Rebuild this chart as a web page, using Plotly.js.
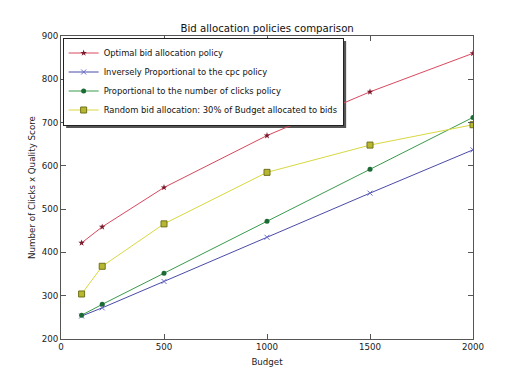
<!DOCTYPE html>
<html><head><meta charset="utf-8">
<script src="https://cdn.plot.ly/plotly-3.0.1.min.js"></script>
<style>html,body{margin:0;padding:0;background:#fff}#c{width:506px;height:386px}</style>
</head><body><div id="c"></div>
<script>
const budget = [100, 200, 500, 1000, 1500, 2000];
const optimal = [422, 459, 550, 670, 771, 860];
const inverseCpc = [253, 272, 333, 435, 537, 637];
const propClicks = [255, 280, 352, 472, 592, 712];
const random30 = [304, 368, 466, 585, 648, 695];
const seriesNames = [
  'Optimal bid allocation policy',
  'Inversely Proportional to the cpc policy',
  'Proportional to the number of clicks policy',
  'Random bid allocation: 30% of Budget allocated to bids'
];
const xTicks = [0, 500, 1000, 1500, 2000];
const yTicks = [200, 300, 400, 500, 600, 700, 800, 900];

const font = {family: 'DejaVu Sans, sans-serif', size: 8.7, color: '#222'};
const traces = [
  {x: budget, y: optimal, name: seriesNames[0], mode: 'lines+markers',
   line: {color: '#d8485e', width: 1},
   marker: {symbol: 'star', size: 5, color: '#7a1a2c', line: {width: 0}}},
  {x: budget, y: inverseCpc, name: seriesNames[1], mode: 'lines+markers',
   line: {color: '#4a4aa8', width: 1},
   marker: {symbol: 'x-thin', size: 5, line: {color: '#6a6ac8', width: 1}}},
  {x: budget, y: propClicks, name: seriesNames[2], mode: 'lines+markers',
   line: {color: '#3a9a4a', width: 1},
   marker: {symbol: 'circle', size: 5, color: '#1c6a34', line: {width: 0}}},
  {x: budget, y: random30, name: seriesNames[3], mode: 'lines+markers',
   line: {color: '#d8d840', width: 1},
   marker: {symbol: 'square', size: 6, color: '#b8b830', line: {color: '#70701a', width: 1}}}
];
const axisCommon = {
  showgrid: false, zeroline: false, showline: true, linecolor: '#555', linewidth: 1,
  mirror: 'ticks', ticks: 'inside', ticklen: 5, tickcolor: '#555',
  tickfont: font
};
const layout = {
  width: 506, height: 386,
  margin: {l: 61, r: 33, t: 36, b: 47},
  paper_bgcolor: '#fff', plot_bgcolor: '#fff',
  font: font,
  title: {text: 'Bid allocation policies comparison', font: {family: 'DejaVu Sans, sans-serif', size: 10.2, color: '#111'},
          x: 0.528, xanchor: 'center', y: 0.927, yanchor: 'middle'},
  xaxis: Object.assign({}, axisCommon, {range: [0, 2000], tickvals: xTicks,
          title: {text: 'Budget', font: font, standoff: 7}}),
  yaxis: Object.assign({}, axisCommon, {range: [200, 900], tickvals: yTicks,
          title: {text: 'Number of Clicks x Quality Score', font: font, standoff: 4}}),
  legend: {x: 0.004, y: 0.995, xanchor: 'left', yanchor: 'top', bgcolor: '#fff',
           bordercolor: '#222', borderwidth: 1, font: {family: 'DejaVu Sans, sans-serif', size: 8.4, color: '#111'},
           tracegroupgap: 0, itemwidth: 30},
  showlegend: true
};
Plotly.newPlot('c', traces, layout, {staticPlot: true, displayModeBar: false}).then(function (gd) {
  const bg = gd.querySelector('.legend .bg');
  if (!bg) return;
  const lb = bg.getBoundingClientRect();
  const gb = gd.getBoundingClientRect();
  const fl = gd._fullLayout, s = fl._size;
  const px = (v) => (v - gb.left - s.l) / s.w;
  const py = (v) => 1 - (v - gb.top - s.t) / s.h;
  return Plotly.relayout(gd, {shapes: [{type: 'rect', xref: 'paper', yref: 'paper',
    x0: px(lb.left + 3), x1: px(lb.right + 3), y0: py(lb.bottom + 3), y1: py(lb.top + 3),
    fillcolor: '#555', line: {width: 0}, layer: 'below'}]});
});
</script></body></html>
